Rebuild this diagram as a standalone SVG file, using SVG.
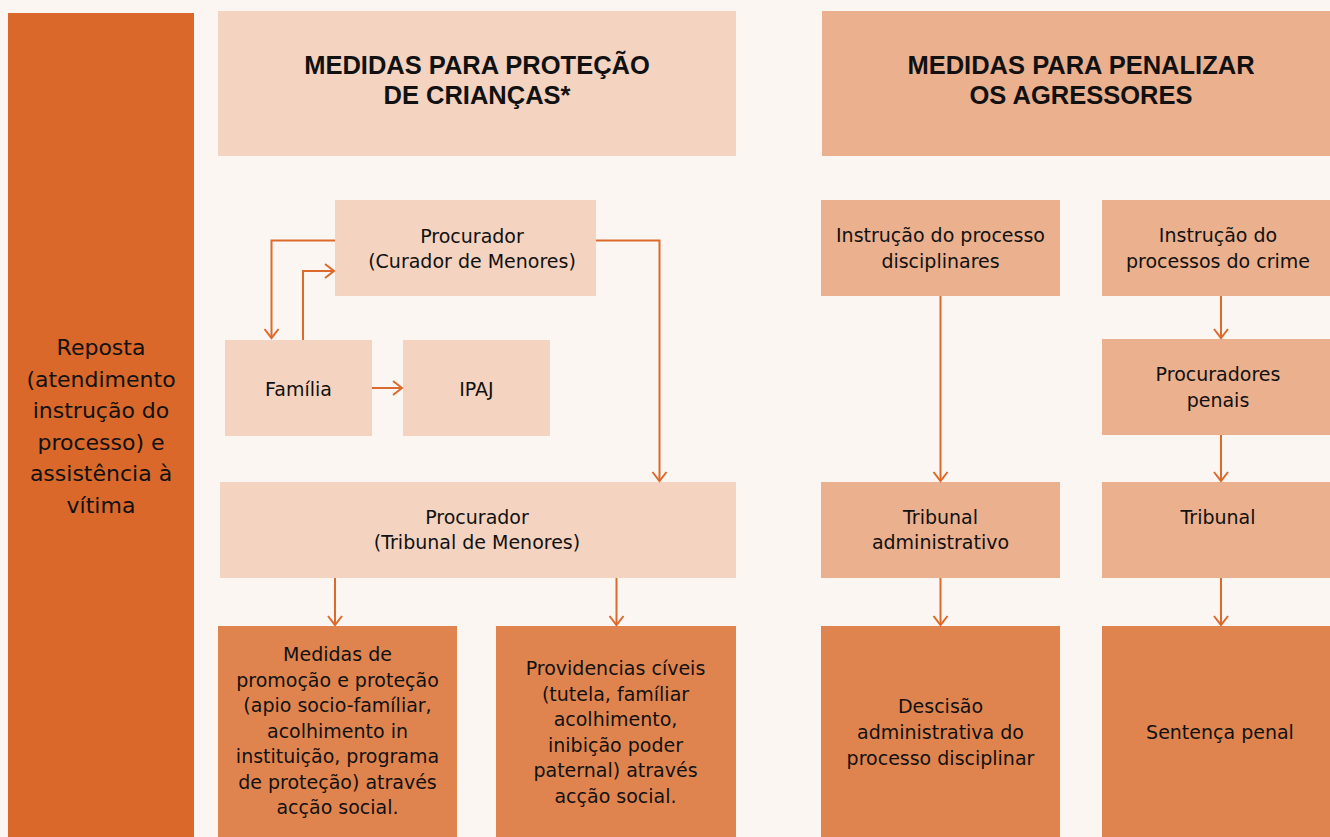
<svg xmlns="http://www.w3.org/2000/svg" width="1330" height="837" viewBox="0 0 1330 837">
<style>
.bg{fill:#FBF6F2}
.bar{fill:#D9682A}
.l1{fill:#F4D3C0}
.l2{fill:#EBB08E}
.l3{fill:#E0844F}
.h{font-family:"Liberation Sans",Arial,sans-serif;font-weight:bold;font-size:25.5px;fill:#111;text-anchor:middle}
.t{font-family:"DejaVu Sans",sans-serif;font-size:19px;fill:#111;text-anchor:middle}
.tl{font-family:"DejaVu Sans",sans-serif;font-size:22px;fill:#111;text-anchor:middle}
.c{fill:none;stroke:#DD6A2D;stroke-width:2;marker-end:url(#ah)}
</style>
<defs>
<marker id="ah" markerUnits="userSpaceOnUse" viewBox="-11 -9 13 18" markerWidth="13" markerHeight="18" refX="0" refY="0" orient="auto">
<path d="M-9,-7 L0,0 L-9,7" fill="none" stroke="#DD6A2D" stroke-width="2"/>
</marker>
</defs>
<rect class="bg" x="0" y="0" width="1330" height="837"/>
<g id="resposta">
<rect class="bar" x="8" y="13" width="186" height="824"/>
<text class="tl" x="101"><tspan x="101" y="355">Reposta</tspan><tspan x="101" y="386.5">(atendimento</tspan><tspan x="101" y="418">instrução do</tspan><tspan x="101" y="449.5">processo) e</tspan><tspan x="101" y="481">assistência à</tspan><tspan x="101" y="512.5">vítima</tspan></text>
</g>
<g id="header-protecao">
<rect class="l1" x="218" y="11" width="518" height="145"/>
<text class="h"><tspan x="477" y="73.5">MEDIDAS PARA PROTEÇÃO</tspan><tspan x="477" y="103.5">DE CRIANÇAS*</tspan></text>
</g>
<g id="header-penalizar">
<rect class="l2" x="822" y="11" width="508" height="145"/>
<text class="h"><tspan x="1081" y="73.5">MEDIDAS PARA PENALIZAR</tspan><tspan x="1081" y="103.5">OS AGRESSORES</tspan></text>
</g>
<g id="procurador-curador">
<rect class="l1" x="335" y="200" width="261" height="96"/>
<text class="t"><tspan x="472" y="242.5">Procurador</tspan><tspan x="472" y="267.5">(Curador de Menores)</tspan></text>
</g>
<g id="familia">
<rect class="l1" x="225" y="340" width="147" height="96"/>
<text class="t" x="298.5" y="395.5">Família</text>
</g>
<g id="ipaj">
<rect class="l1" x="403" y="340" width="147" height="96"/>
<text class="t" x="476.5" y="395.5">IPAJ</text>
</g>
<g id="procurador-tribunal">
<rect class="l1" x="220" y="482" width="516" height="96"/>
<text class="t"><tspan x="477" y="524">Procurador</tspan><tspan x="477" y="549">(Tribunal de Menores)</tspan></text>
</g>
<g id="medidas-promocao">
<rect class="l3" x="218" y="626" width="239" height="211"/>
<text class="t"><tspan x="337.5" y="661">Medidas de</tspan><tspan x="337.5" y="686.5">promoção e proteção</tspan><tspan x="337.5" y="712">(apio socio-famíliar,</tspan><tspan x="337.5" y="737.5">acolhimento in</tspan><tspan x="337.5" y="763">instituição, programa</tspan><tspan x="337.5" y="788.5">de proteção) através</tspan><tspan x="337.5" y="814">acção social.</tspan></text>
</g>
<g id="providencias">
<rect class="l3" x="496" y="626" width="240" height="211"/>
<text class="t"><tspan x="615.5" y="675">Providencias cíveis</tspan><tspan x="615.5" y="700.5">(tutela, famíliar</tspan><tspan x="615.5" y="726">acolhimento,</tspan><tspan x="615.5" y="751.5">inibição poder</tspan><tspan x="615.5" y="777">paternal) através</tspan><tspan x="615.5" y="802.5">acção social.</tspan></text>
</g>
<g id="instrucao-disciplinar">
<rect class="l2" x="821" y="200" width="239" height="96"/>
<text class="t"><tspan x="940.5" y="242">Instrução do processo</tspan><tspan x="940.5" y="267.5">disciplinares</tspan></text>
</g>
<g id="tribunal-administrativo">
<rect class="l2" x="821" y="482" width="239" height="96"/>
<text class="t"><tspan x="940.5" y="523.5">Tribunal</tspan><tspan x="940.5" y="548.5">administrativo</tspan></text>
</g>
<g id="decisao-administrativa">
<rect class="l3" x="821" y="626" width="239" height="211"/>
<text class="t"><tspan x="940.5" y="713">Descisão</tspan><tspan x="940.5" y="739">administrativa do</tspan><tspan x="940.5" y="765">processo disciplinar</tspan></text>
</g>
<g id="instrucao-crime">
<rect class="l2" x="1102" y="200" width="228" height="96"/>
<text class="t"><tspan x="1218" y="242">Instrução do</tspan><tspan x="1218" y="267.5">processos do crime</tspan></text>
</g>
<g id="procuradores-penais">
<rect class="l2" x="1102" y="339" width="228" height="96"/>
<text class="t"><tspan x="1218" y="381">Procuradores</tspan><tspan x="1218" y="406.5">penais</tspan></text>
</g>
<g id="tribunal">
<rect class="l2" x="1102" y="482" width="228" height="96"/>
<text class="t" x="1218" y="523.5">Tribunal</text>
</g>
<g id="sentenca">
<rect class="l3" x="1102" y="626" width="228" height="211"/>
<text class="t" x="1220" y="738.5">Sentença penal</text>
</g>
<g id="connectors">
<path class="c" d="M335,240.5 H271.5 V338"/>
<path class="c" d="M303,340 V271 H334"/>
<path class="c" d="M596,240.5 H659.5 V481"/>
<path class="c" d="M372,388 H402"/>
<path class="c" d="M335,578 V625"/>
<path class="c" d="M616.5,578 V625"/>
<path class="c" d="M940.5,296 V481"/>
<path class="c" d="M940.5,578 V625"/>
<path class="c" d="M1221,296 V338"/>
<path class="c" d="M1221,435 V481"/>
<path class="c" d="M1221,578 V625"/>
</g>
</svg>
